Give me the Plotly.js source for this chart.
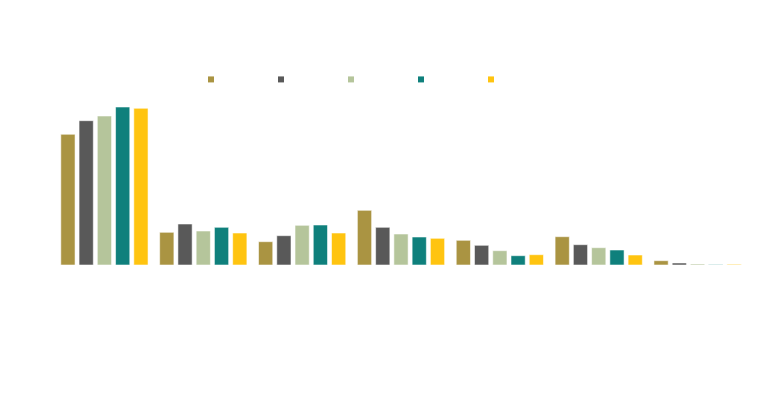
<!DOCTYPE html>
<html>
<head>
<meta charset="utf-8">
<script src="https://cdn.plot.ly/plotly-3.0.1.min.js"></script>
<style>html,body{margin:0;padding:0;background:#fff;}#chart{width:768px;height:419px;}</style>
</head>
<body>
<div id="chart"></div>
<script>
var categories = ["A", "B", "C", "D", "E", "F", "G"];
var seriesNames = ["Series 1", "Series 2", "Series 3", "Series 4", "Series 5"];
var series1 = [130.7, 32.7, 23.3, 54.7, 24.7, 28.3, 4.3];
var series2 = [144.3, 41.0, 29.3, 37.7, 19.7, 20.3, 2.0];
var series3 = [149.0, 34.0, 39.7, 31.0, 14.3, 17.3, 1.0];
var series4 = [158.0, 37.7, 40.0, 28.0, 9.3, 15.0, 0.4];
var series5 = [156.7, 32.0, 32.0, 26.7, 10.3, 10.0, 0.7];
var colors = ["#AA9442", "#595959", "#B5C59B", "#0F807C", "#FFC410"];

var allSeries = [series1, series2, series3, series4, series5];
var traces = [];
allSeries.forEach(function(vals, i) {
  traces.push({
    type: "bar", x: categories, y: vals, name: seriesNames[i],
    legendgroup: "g" + i, showlegend: false,
    marker: {color: colors[i], line: {color: "rgba(255,255,255,0.55)", width: 1}},
    hoverinfo: "none"
  });
});
allSeries.forEach(function(vals, i) {
  traces.push({
    type: "scatter", mode: "markers", x: [null], y: [null], name: seriesNames[i],
    legendgroup: "g" + i, showlegend: true,
    marker: {color: colors[i], symbol: "square", size: 6}
  });
});

var layout = {
  width: 768, height: 419,
  paper_bgcolor: "#ffffff", plot_bgcolor: "#ffffff",
  margin: {l: 55, r: 21, t: 85, b: 154, autoexpand: false},
  barmode: "group", bargap: 0.077, bargroupgap: 0.22,
  showlegend: true,
  legend: {orientation: "h", x: 0.1965, y: 1.031, xanchor: "left", yanchor: "middle",
           font: {color: "#ffffff", size: 11, family: "Liberation Sans"},
           entrywidth: 25, entrywidthmode: "pixels", itemsizing: "trace"},
  xaxis: {range: [-0.5, 6.5], showgrid: false, zeroline: false, showline: false, ticks: "",
          tickfont: {color: "#ffffff"}},
  yaxis: {range: [0, 180], showgrid: false, zeroline: false, showline: false, ticks: "",
          showticklabels: false},
  font: {family: "Liberation Sans"}
};
Plotly.newPlot("chart", traces, layout, {displayModeBar: false, staticPlot: true});
</script>
</body>
</html>
